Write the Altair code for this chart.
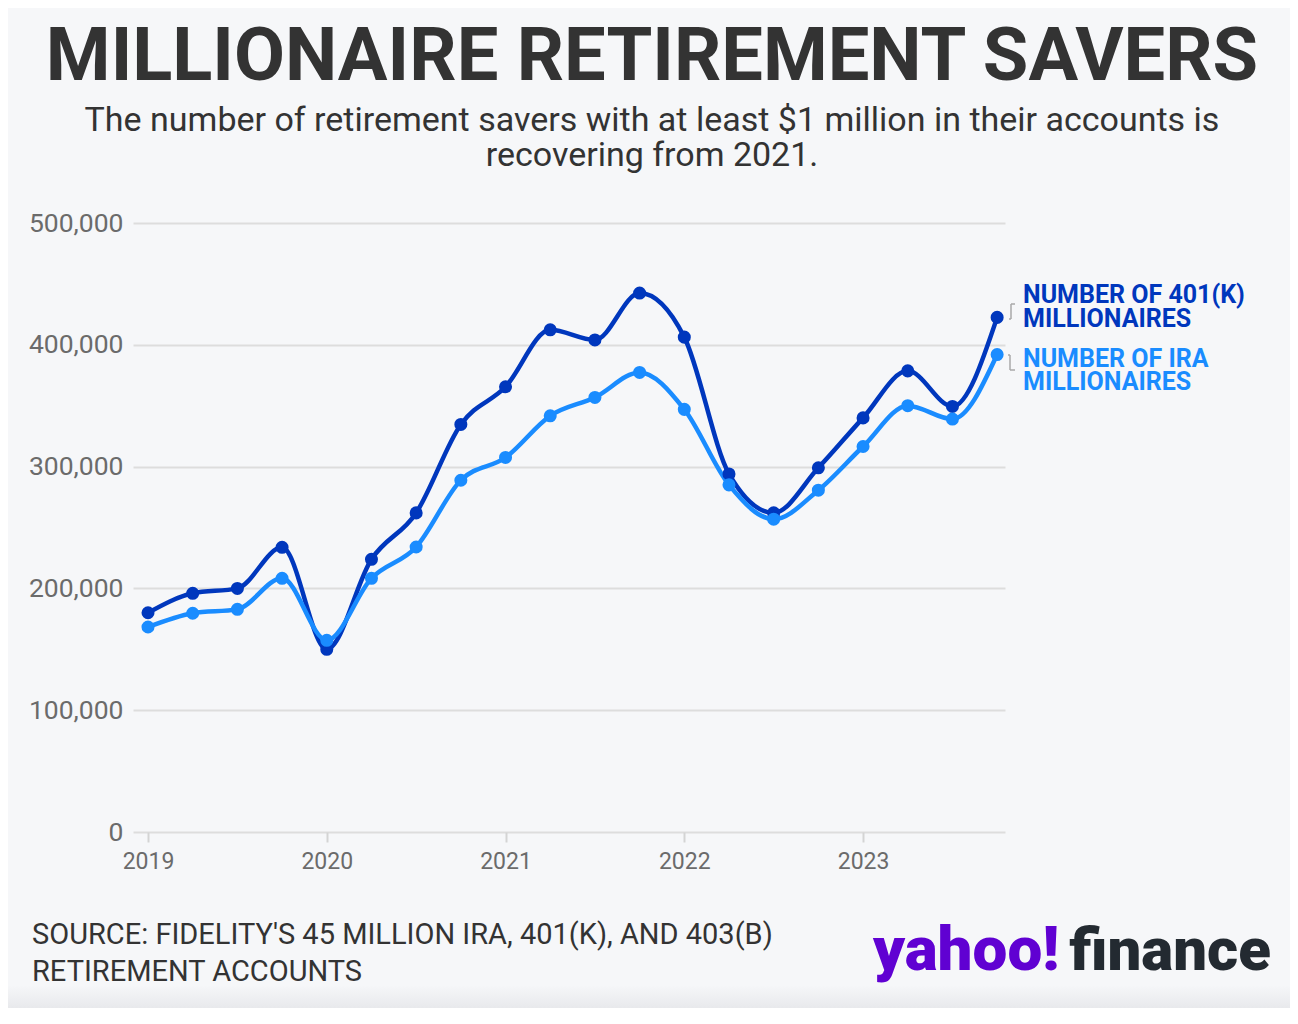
import altair as alt
import pandas as pd

# ---- data ----
quarters = [
    "2019 Q1", "2019 Q2", "2019 Q3", "2019 Q4",
    "2020 Q1", "2020 Q2", "2020 Q3", "2020 Q4",
    "2021 Q1", "2021 Q2", "2021 Q3", "2021 Q4",
    "2022 Q1", "2022 Q2", "2022 Q3", "2022 Q4",
    "2023 Q1", "2023 Q2", "2023 Q3", "2023 Q4",
]
k401_millionaires = [
    180000, 196000, 200000, 233700,
    150000, 223900, 262000, 334600,
    365500, 412300, 404000, 442500,
    406300, 294000, 262000, 299000,
    340000, 378600, 349400, 422500,
]
ira_millionaires = [
    168300, 179600, 182800, 208300,
    157400, 208300, 234000, 288800,
    307500, 341700, 356800, 377300,
    347000, 285000, 256800, 280600,
    316500, 350000, 339000, 392000,
]
series_names = ["Number of 401(k) millionaires", "Number of IRA millionaires"]
series_colors = ["#0037bd", "#1a8cff"]
year_ticks = [2019, 2020, 2021, 2022, 2023]
value_ticks = [0, 100000, 200000, 300000, 400000, 500000]

title_text = "MILLIONAIRE RETIREMENT SAVERS"
subtitle_lines = [
    "The number of retirement savers with at least $1 million in their accounts is",
    "recovering from 2021.",
]
label_401k = ["NUMBER OF 401(K)", "MILLIONAIRES"]
label_ira = ["NUMBER OF IRA", "MILLIONAIRES"]
source_lines = [
    "SOURCE: FIDELITY'S 45 MILLION IRA, 401(K), AND 403(B)",
    "RETIREMENT ACCOUNTS",
]

# ---- build table ----
def qpos(q):
    return int(q[:4]) + (int(q[-1]) - 1) / 4

rows = []
for name, vals in zip(series_names, [k401_millionaires, ira_millionaires]):
    for q, v in zip(quarters, vals):
        rows.append({"quarter": q, "t": qpos(q), "value": v, "series": name})
df = pd.DataFrame(rows)

W, H = 872, 609
FONT = "Roboto"
BG = "#f6f7f9"

x_enc = alt.X(
    "t:Q",
    scale=alt.Scale(domain=[2018.916, 2023.794], nice=False, zero=False),
    axis=alt.Axis(
        values=year_ticks, format="d", title=None, grid=False, domain=False,
        ticks=True, tickColor="#d4d4d4", tickSize=10, tickWidth=2,
        labelFontSize=23, labelColor="#6b6b6b", labelPadding=8, labelFont=FONT,
    ),
)
y_enc = alt.Y(
    "value:Q",
    scale=alt.Scale(domain=[0, 500000], nice=False),
    axis=alt.Axis(
        values=value_ticks, format=",d", title=None, grid=True,
        gridColor="#dddddd", gridWidth=2, domain=False, ticks=False,
        labelPadding=10, labelFontSize=26.5, labelColor="#6b6b6b", labelFont=FONT,
    ),
)
color_enc = alt.Color(
    "series:N",
    scale=alt.Scale(domain=series_names, range=series_colors),
    legend=None,
)

base = alt.Chart(df)
lines = base.mark_line(strokeWidth=4.5, interpolate="monotone").encode(
    x=x_enc, y=y_enc, color=color_enc
)
points = base.mark_circle(size=170, opacity=1).encode(
    x=x_enc, y=y_enc, color=color_enc
)


def txt(lines_, x, y, size, color, weight="normal", align="center", line_height=None, font=FONT):
    text = "\n".join(lines_) if isinstance(lines_, list) else lines_
    kw = {}
    if line_height is not None:
        kw["lineHeight"] = line_height
    return alt.Chart(pd.DataFrame({"s": [text]})).mark_text(
        align=align, baseline="alphabetic", fontSize=size, fontWeight=weight,
        color=color, font=font, lineBreak="\n", **kw,
    ).encode(text="s:N", x=alt.value(x), y=alt.value(y))


def seg(x1, y1, x2, y2):
    return alt.Chart(pd.DataFrame({"s": [0]})).mark_rule(
        color="#a9a9a9", strokeWidth=1.5
    ).encode(x=alt.value(x1), x2=alt.value(x2), y=alt.value(y1), y2=alt.value(y2))


# plot origin sits at page (133, 223)
layers = [lines, points]
layers.append(txt(title_text, 519, -143, 74, "#333333", weight="bold"))
layers.append(txt(subtitle_lines, 519, -92, 34, "#333333", line_height=35))
layers.append(txt(label_401k, 890, 80, 25, series_colors[0], weight="bold", align="left", line_height=24))
layers.append(txt(label_ira, 890, 144, 25, series_colors[1], weight="bold", align="left", line_height=23))
layers.append(txt(source_lines, -101, 721, 29, "#333333", align="left", line_height=37))
layers.append(txt("yahoo!", 740, 747, 62, "#6001d2", weight=900, align="left"))
layers.append(txt("finance", 1138, 747, 60, "#232a31", weight=900, align="right"))

# small leader brackets next to the series labels
layers += [
    seg(878, 81, 878, 96), seg(878, 81, 882, 81), seg(878, 96, 876, 96),
    seg(877, 132, 877, 147), seg(877, 147, 882, 147), seg(877, 132, 875, 132),
]

# soft shading at the bottom edge
shade = alt.Chart(pd.DataFrame({"s": [0]})).mark_rect(
    color=alt.LinearGradient(
        gradient="linear",
        stops=[alt.GradientStop(color=BG, offset=0), alt.GradientStop(color="#e8e9ec", offset=1)],
        x1=0, x2=0, y1=0, y2=1,
    )
).encode(x=alt.value(-125), x2=alt.value(1157), y=alt.value(762), y2=alt.value(785))

chart = alt.layer(shade, *layers).properties(
    width=W, height=H,
    background=BG,
    padding={"left": 125, "top": 215, "right": 285, "bottom": 176},
    autosize=alt.AutoSizeParams(type="none"),
).configure_view(stroke=None)

chart.save("out.html", embed_options={"renderer": "svg", "actions": False})
